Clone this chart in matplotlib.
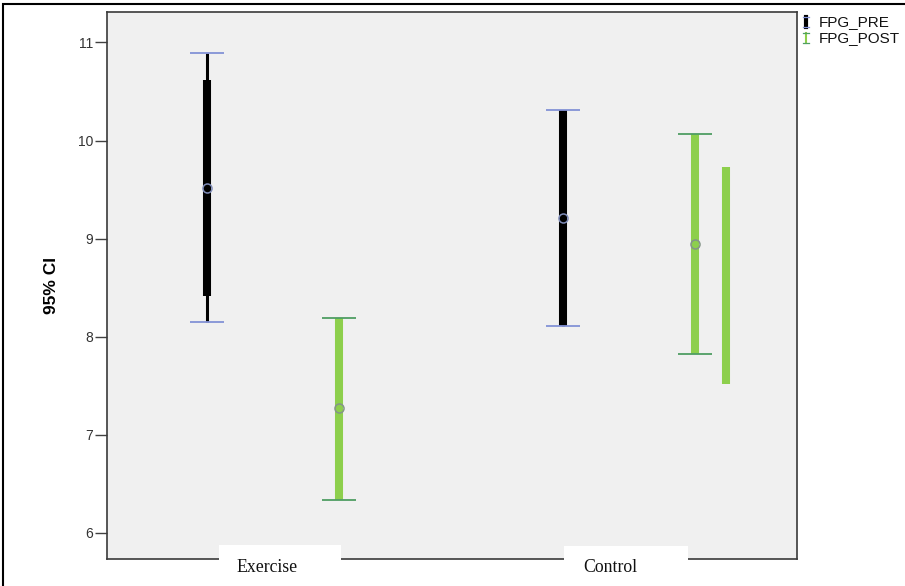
import matplotlib
matplotlib.use("Agg")
import matplotlib.pyplot as plt
from matplotlib.patches import Rectangle
from matplotlib.lines import Line2D

# ---- data ----
groups = ["Exercise", "Control"]
series = ["FPG_PRE", "FPG_POST"]
pre_mean = [9.52, 9.21]
pre_lo = [8.15, 8.11]
pre_hi = [10.89, 10.31]
pre_bar_lo = [8.42, 8.11]
pre_bar_hi = [10.62, 10.31]
post_mean = [7.27, 8.95]
post_lo = [6.34, 7.82]
post_hi = [8.19, 10.07]
extra_group = "Control"
extra_lo = 7.52
extra_hi = 9.73
yticks = [6, 7, 8, 9, 10, 11]

# ---- style ----
W, H = 905, 586
fig = plt.figure(figsize=(W / 100, H / 100), dpi=100)
fig.patch.set_facecolor("white")
ax = fig.add_axes([107 / W, 1 - 559 / H, 690 / W, 547 / H])
ax.set_facecolor("#f0f0f0")

BLACK = "#000000"
GREEN = "#8dcf4c"
PRE_CAP = "#8392d6"
POST_CAP = "#4f9e63"
off = 0.185
cap = 0.048
thick = 5.8
thin = 2.2

gx = list(range(len(groups)))
for i, g in enumerate(gx):
    x = g - off
    ax.vlines(x, pre_lo[i], pre_hi[i], color=BLACK, lw=thin, zorder=2)
    ax.vlines(x, pre_bar_lo[i], pre_bar_hi[i], color=BLACK, lw=thick, zorder=3)
    ax.hlines([pre_lo[i], pre_hi[i]], x - cap, x + cap, color=PRE_CAP, lw=1.3, zorder=4)
    ax.plot(x, pre_mean[i], 'o', ms=6.5, mfc="none", mec="#7f8cb8", mew=1.1, zorder=5)

    x = g + off
    ax.vlines(x, post_lo[i], post_hi[i], color=GREEN, lw=thick, zorder=3)
    ax.hlines([post_lo[i], post_hi[i]], x - cap, x + cap, color=POST_CAP, lw=1.3, zorder=4)
    ax.plot(x, post_mean[i], 'o', ms=6.5, mfc="none", mec="#849488", mew=1.1, zorder=5)

xe = groups.index(extra_group) + 0.272
ax.vlines(xe, extra_lo, extra_hi, color=GREEN, lw=thick, zorder=3)

ax.set_xlim(-0.466, 1.472)
ax.set_ylim(5.735, 11.31)
ax.set_yticks(yticks)
ax.set_yticklabels([str(t) for t in yticks], fontsize=10, color="#333333",
                   family=["Liberation Sans", "DejaVu Sans"])
ax.tick_params(axis="y", length=8.3, width=1.0, color="#404040", pad=1.5)
ax.set_xticks([])
for s in ax.spines.values():
    s.set_color("#3a3a3a")
    s.set_linewidth(1.2)

ax.set_ylabel("95% CI", fontsize=12.5, fontweight="bold",
              family=["Liberation Sans", "DejaVu Sans"], labelpad=14)

# category labels on white boxes
label_boxes = [(219, 545, 122), (564, 546, 124)]
label_x = [267.5, 610]
for (bx, by, bw), lab, lx in zip(label_boxes, groups, label_x):
    fig.add_artist(Rectangle((bx / W, -0.05), bw / W, (H - by) / H + 0.05,
                             transform=fig.transFigure, facecolor="white",
                             edgecolor="none", zorder=10))
    fig.text(lx / W, 1 - 572 / H, lab, ha="center", va="baseline", fontsize=12.8,
             family=["Liberation Serif", "DejaVu Serif"], zorder=11, color="#111111")

# outer frame (left and top visible)
fig.add_artist(Rectangle((3 / W, -0.1), 1.2, 1.1 - 4.5 / H,
                         transform=fig.transFigure, facecolor="none",
                         edgecolor="black", lw=1.5, zorder=20, clip_on=False))

# legend
legend_y = [1 - 22 / H, 1 - 38 / H]
legend_cols = [(BLACK, PRE_CAP, 3.0), (GREEN, POST_CAP, 1.5)]
for name, yy, (c, cc, lw) in zip(series, legend_y, legend_cols):
    x0 = 806 / W
    fig.add_artist(Line2D([x0, x0], [yy - 5 / H, yy + 5 / H], color=c, lw=lw,
                          transform=fig.transFigure))
    fig.add_artist(Line2D([x0 - 3 / W, x0 + 3 / W], [yy + 5 / H, yy + 5 / H], color=cc,
                          lw=0.9, transform=fig.transFigure))
    fig.add_artist(Line2D([x0 - 3 / W, x0 + 3 / W], [yy - 5 / H, yy - 5 / H], color=cc,
                          lw=0.9, transform=fig.transFigure))
    fig.text(819 / W, yy, name, fontsize=11, va="center", ha="left",
             family=["Liberation Sans", "DejaVu Sans"], color="#111111")

fig.savefig("out.png", dpi=100)
